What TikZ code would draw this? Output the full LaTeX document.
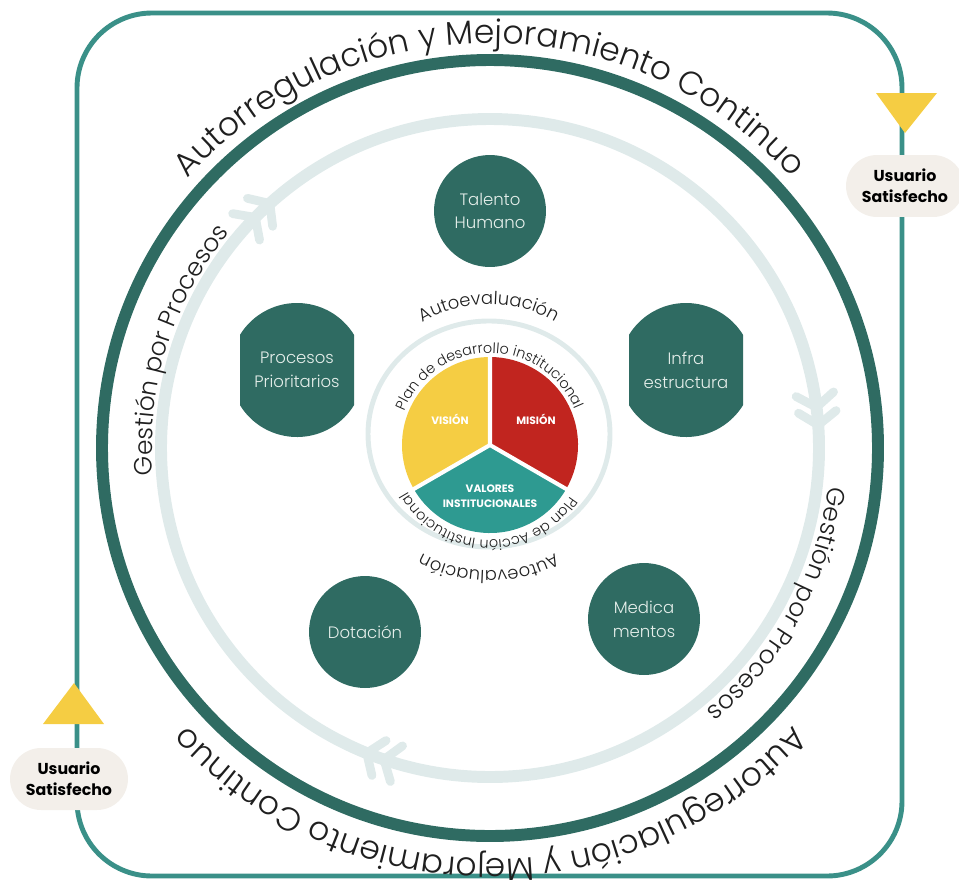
\documentclass[tikz,border=0pt]{standalone}
\usepackage{fontspec}
\setmainfont{Poppins}
\IfFontExistsTF{Poppins Light}{\newfontfamily\quickfont{Poppins Light}}{\newfontfamily\quickfont{Poppins}}
\usetikzlibrary{decorations.text}

\definecolor{frameteal}{HTML}{3A9088}
\definecolor{darkgreen}{HTML}{2F6B62}
\definecolor{palering}{HTML}{DFEAEA}
\definecolor{sunyellow}{HTML}{F5CD43}
\definecolor{misionred}{HTML}{C1251F}
\definecolor{valteal}{HTML}{2E9A91}
\definecolor{cream}{HTML}{F3EFEA}
\definecolor{inktext}{HTML}{1F1F1F}
\definecolor{paletext}{HTML}{E6EFEB}

\newcommand\outerfont{\quickfont\fontsize{18.7}{20}\selectfont}
\newcommand\gestfont{\quickfont\fontsize{14.2}{16}\selectfont}
\newcommand\autofont{\quickfont\fontsize{10.2}{12}\selectfont}
\newcommand\planfont{\quickfont\fontsize{8.2}{9}\selectfont}

\tikzstyle{frame}=[draw=frameteal, line width=2.8pt, rounded corners=1.5cm]
\tikzstyle{chevron}=[draw=palering, line width=5pt, line cap=round, line join=round]
\tikzstyle{unittext}=[text=paletext, align=center, font=\quickfont\fontsize{9.4}{13.6}\selectfont]
\tikzstyle{unit}=[unittext, circle, fill=darkgreen, minimum size=2.24cm, inner sep=0pt]
\tikzstyle{userbox}=[rectangle, rounded corners=0.62cm, fill=cream, text=black, minimum width=2.36cm, minimum height=1.24cm, align=center, font=\bfseries\fontsize{9}{12}\selectfont]
\tikzstyle{pietext}=[text=white, align=center, font=\bfseries\fontsize{6.1}{8.6}\selectfont]
\tikzstyle{curved}=[decorate, decoration={text along path, text align=center, text color=inktext}]

\begin{document}
\begin{tikzpicture}[x=0.02cm, y=0.02cm]
\useasboundingbox (0,0) rectangle (959,-879);
\clip (0,0) rectangle (959,-879);

\coordinate (O) at (490,-448);
\coordinate (core) at (490,-445);
\coordinate (rim) at (489,-434);

\draw[frame] (77,-13) rectangle (902,-876);
\fill[sunyellow] (876,-93) -- (937,-93) -- (905,-133) -- cycle;
\fill[sunyellow] (43,-724) -- (104,-724) -- (74,-683) -- cycle;
\node[userbox] (userR) at (905,-186) {Usuario\\Satisfecho};
\node[userbox] (userL) at (69,-779) {Usuario\\Satisfecho};

\draw[darkgreen, line width=6.8pt] (O) circle[radius=388];
\draw[palering, line width=6.8pt] (O) circle[radius=329];

\draw[chevron, shift={(O)}] (132:329) ++(167:23) -- ++(347:23) -- ++(277:23)
  (135.5:329) ++(170.5:23) -- ++(350.5:23) -- ++(280.5:23);
\draw[chevron, shift={(O)}] (4:329) ++(39:23) -- ++(219:23) -- ++(149:23)
  (7.1:329) ++(42.1:23) -- ++(222.1:23) -- ++(152.1:23);
\draw[chevron, shift={(O)}] (-112:329) ++(-77:23) -- ++(103:23) -- ++(33:23)
  (-108.8:329) ++(-73.8:23) -- ++(106.2:23) -- ++(36.2:23);

\path[curved, shift={(O)}, decoration={text={|\outerfont|Autorregulación y Mejoramiento Continuo}}]
  (178:405) arc[start angle=178, end angle=2, radius=405];
\path[curved, shift={(O)}, decoration={text={|\outerfont|Autorregulación y Mejoramiento Continuo}}]
  (-2:411) arc[start angle=-2, end angle=-178, radius=411];
\path[curved, shift={(O)}, decoration={text={|\gestfont|Gestión por Procesos}}]
  (230:338) arc[start angle=230, end angle=95, radius=338];
\path[curved, shift={(O)}, decoration={text={|\gestfont|Gestión por Procesos}}]
  (16.5:340) arc[start angle=16.5, end angle=-73.5, radius=340];

\node[unit] (talento) at (490,-211) {Talento\\Humano};
\node[unit] (dotacion) at (365,-632) {Dotación};
\node[unit] (medicamentos) at (644,-619) {Medica\\mentos};
\fill[darkgreen, shift={(297,-370)}] (31.7:67) arc[start angle=31.7, end angle=148.3, radius=67]
  -- (-57,-35.2) arc[start angle=211.7, end angle=328.3, radius=67] -- cycle;
\fill[darkgreen, shift={(686,-370)}] (31.7:67) arc[start angle=31.7, end angle=148.3, radius=67]
  -- (-57,-35.2) arc[start angle=211.7, end angle=328.3, radius=67] -- cycle;
\node[unittext] (procesos) at (297,-370) {Procesos\\Prioritarios};
\node[unittext] (infra) at (686,-370) {Infra\\estructura};

\draw[palering, line width=2.8pt] (rim) ellipse[x radius=121, y radius=113];
\path[curved, shift={(rim)}, decoration={text={|\autofont|Autoevaluación}}]
  (150:130) arc[start angle=150, end angle=30, radius=130];
\path[curved, shift={(rim)}, decoration={text={|\autofont|Autoevaluación}}]
  (-30:137) arc[start angle=-30, end angle=-150, radius=137];

\fill[sunyellow] (core) -- ++(90:88) arc[start angle=90, end angle=210, radius=88] -- cycle;
\fill[misionred] (core) -- ++(-30:88) arc[start angle=-30, end angle=90, radius=88] -- cycle;
\fill[valteal] (core) -- ++(210:88) arc[start angle=210, end angle=330, radius=88] -- cycle;
\draw[white, line width=2.3pt] (core) -- ++(90:90) (core) -- ++(210:90) (core) -- ++(330:90);
\node[pietext] (vision) at (450,-419) {VISIÓN};
\node[pietext] (mision) at (536,-419) {MISIÓN};
\node[pietext] (valores) at (490,-496) {VALORES\\INSTITUCIONALES};

\path[curved, shift={(core)}, decoration={text={|\planfont|Plan de desarrollo institucional}}]
  (175:92) arc[start angle=175, end angle=6, radius=92];
\path[curved, shift={(core)}, decoration={text={|\planfont|Plan de Acción Institucional}}]
  (-5:95) arc[start angle=-5, end angle=-178, radius=95];
\end{tikzpicture}
\end{document}
